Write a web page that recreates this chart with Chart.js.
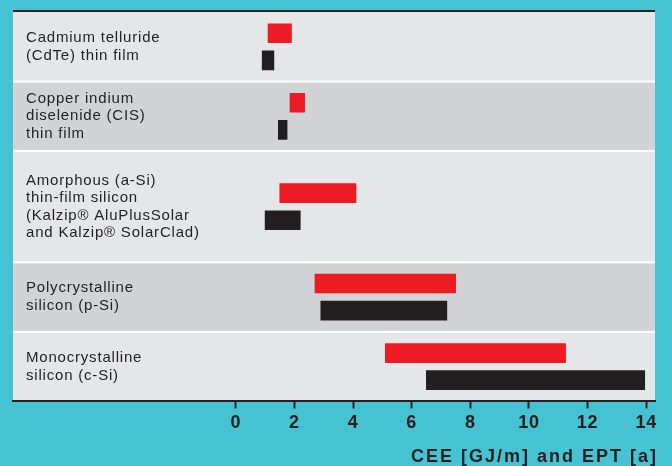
<!DOCTYPE html>
<html>
<head>
<meta charset="utf-8">
<script src="https://cdn.jsdelivr.net/npm/chart.js@4/dist/chart.umd.min.js"></script>
<style>
  html, body { margin: 0; padding: 0; background: #45c3d3; }
  canvas { display: block; }
</style>
</head>
<body>
<canvas id="ceeEptChart" width="672" height="466"></canvas>
<script>
(function () {
  "use strict";

  // ── 데이터 ───────────────────────────────────────────────
  var CATEGORIES = [
    ["Cadmium telluride", "(CdTe) thin film"],
    ["Copper indium", "diselenide (CIS)", "thin film"],
    ["Amorphous (a-Si)", "thin-film silicon", "(Kalzip\u00ae AluPlusSolar", "and Kalzip\u00ae SolarClad)"],
    ["Polycrystalline", "silicon (p-Si)"],
    ["Monocrystalline", "silicon (c-Si)"]
  ];
  var CEE_RANGE = [[1.1, 1.9], [1.85, 2.35], [1.5, 4.1], [2.7, 7.5], [5.1, 11.25]]; // 빨강
  var EPT_RANGE = [[0.9, 1.3], [1.45, 1.75], [1.0, 2.2], [2.9, 7.2], [6.5, 13.95]]; // 검정
  var X_TICKS = [0, 2, 4, 6, 8, 10, 12, 14];
  var AXIS_TITLE = "CEE [GJ/m] and EPT [a]";

  // ── 레이아웃 / 색상 ──────────────────────────────────────
  var ROW_SPAN = [1, 1, 1.6, 1, 1]; // 행 높이 비율 (a-Si 행만 4줄)
  var BAR_SHIFT = 0.195;            // 행 중심에서 막대까지 거리 (y 단위)
  var X_MIN = -7.6;
  var X_MAX = 14.3;

  var TEAL = "#45c3d3";
  var ROW_LIGHT = "#e5e6e8";
  var ROW_DARK = "#d2d3d5";
  var INK = "#231f20";
  var RED = "#ed1c24";
  var FONT = '"Liberation Sans", Arial, Helvetica, sans-serif';

  var bounds = [0];
  ROW_SPAN.forEach(function (s) {
    bounds.push(bounds[bounds.length - 1] + s);
  });
  var centers = ROW_SPAN.map(function (s, i) {
    return bounds[i] + s / 2;
  });
  var Y_MAX = bounds[bounds.length - 1];

  // ── 행 배경 + 하단 축 제목 ───────────────────────────────
  var rowBands = {
    id: "rowBands",
    beforeDraw: function (chart) {
      var ctx = chart.ctx;
      var a = chart.chartArea;
      var y = chart.scales.y;
      var w = a.right - a.left;
      ctx.save();
      ctx.fillStyle = TEAL;
      ctx.fillRect(0, 0, chart.width, chart.height);
      for (var i = 0; i < ROW_SPAN.length; i++) {
        var top = y.getPixelForValue(bounds[i]);
        var bot = y.getPixelForValue(bounds[i + 1]);
        ctx.fillStyle = i % 2 ? ROW_DARK : ROW_LIGHT;
        ctx.fillRect(a.left, top, w, bot - top);
      }
      ctx.fillStyle = "#ffffff";
      for (var j = 1; j < ROW_SPAN.length; j++) {
        var p = y.getPixelForValue(bounds[j]);
        ctx.fillRect(a.left, p - 1, w, 2);
      }
      ctx.fillStyle = INK;
      ctx.fillRect(a.left, a.top - 2, w, 2);
      ctx.restore();
      ctx.letterSpacing = "0.8px";
    },
    afterDraw: function (chart) {
      var ctx = chart.ctx;
      ctx.save();
      ctx.letterSpacing = "2px";
      ctx.font = "bold 18px " + FONT;
      ctx.fillStyle = INK;
      ctx.textAlign = "right";
      ctx.textBaseline = "alphabetic";
      ctx.fillText(AXIS_TITLE, chart.chartArea.right + 3, chart.height - 4);
      ctx.restore();
    }
  };

  function barSet(label, ranges, color, shift) {
    return {
      label: label,
      data: ranges.map(function (r, i) {
        return { x: r, y: centers[i] + shift };
      }),
      backgroundColor: color,
      borderWidth: 0,
      borderSkipped: false,
      barThickness: 19,
      grouped: false
    };
  }

  new Chart(document.getElementById("ceeEptChart").getContext("2d"), {
    type: "bar",
    data: {
      datasets: [
        barSet("CEE", CEE_RANGE, RED, -BAR_SHIFT),
        barSet("EPT", EPT_RANGE, INK, BAR_SHIFT)
      ]
    },
    options: {
      indexAxis: "y",
      responsive: false,
      animation: false,
      layout: { padding: { left: 13, right: 17, top: 12, bottom: 28 } },
      plugins: {
        legend: { display: false },
        tooltip: { enabled: false }
      },
      scales: {
        x: {
          type: "linear",
          position: "bottom",
          offset: false,
          min: X_MIN,
          max: X_MAX,
          afterBuildTicks: function (axis) {
            axis.ticks = X_TICKS.map(function (v) {
              return { value: v };
            });
          },
          afterFit: function (axis) {
            axis.paddingLeft = 0;
            axis.paddingRight = 0;
          },
          ticks: {
            color: INK,
            font: { family: FONT, size: 18, weight: "bold" },
            padding: 4,
            autoSkip: false,
            maxRotation: 0,
            callback: function (v) {
              return String(v);
            }
          },
          grid: {
            offset: false,
            drawOnChartArea: false,
            drawTicks: true,
            tickLength: 7,
            tickColor: INK,
            tickWidth: 2
          },
          border: { display: true, color: INK, width: 2 }
        },
        y: {
          type: "linear",
          position: "left",
          offset: false,
          min: 0,
          max: Y_MAX,
          reverse: true,
          afterBuildTicks: function (axis) {
            axis.ticks = centers.map(function (v) {
              return { value: v };
            });
          },
          afterFit: function (axis) {
            // 라벨은 차트 안쪽에 그리므로 축 폭/여백 없음
            axis.width = 0;
            axis.paddingTop = 0;
            axis.paddingBottom = 0;
          },
          ticks: {
            mirror: true,
            padding: 13,
            autoSkip: false,
            color: INK,
            font: { family: FONT, size: 15, lineHeight: 1.17 },
            callback: function (v, idx) {
              return CATEGORIES[idx];
            }
          },
          grid: { display: false, offset: false },
          border: { display: false }
        }
      }
    },
    plugins: [rowBands]
  });
})();
</script>
</body>
</html>
